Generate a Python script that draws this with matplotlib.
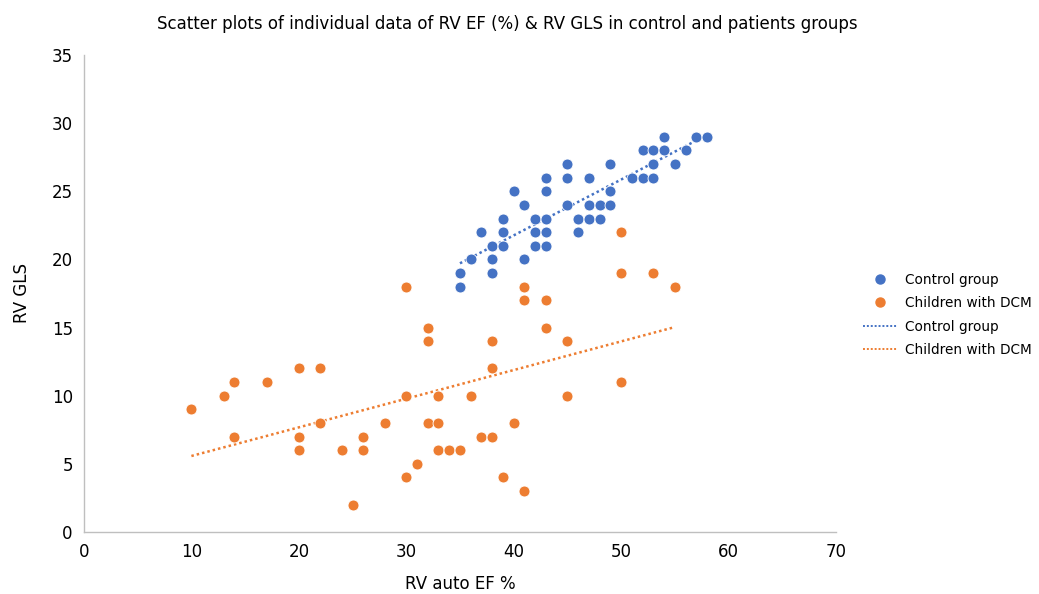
import numpy as np
import matplotlib
matplotlib.use('Agg')
import matplotlib.pyplot as plt
from matplotlib.lines import Line2D

# RV auto EF % vs RV GLS, control group
ctrl_ef = [54, 57, 58,
           52, 53, 54, 56,
           45, 49, 53, 55,
           43, 45, 47, 51, 52, 53,
           40, 43, 49,
           41, 45, 47, 48, 49,
           39, 42, 43, 46, 47, 48,
           37, 39, 42, 43, 46,
           38, 39, 42, 43,
           36, 38, 41,
           35, 38,
           35]
ctrl_gls = [29, 29, 29,
            28, 28, 28, 28,
            27, 27, 27, 27,
            26, 26, 26, 26, 26, 26,
            25, 25, 25,
            24, 24, 24, 24, 24,
            23, 23, 23, 23, 23, 23,
            22, 22, 22, 22, 22,
            21, 21, 21, 21,
            20, 20, 20,
            19, 19,
            18]

# children with DCM
dcm_ef = [10, 13, 14, 14, 17, 20, 20, 20, 22, 22, 24, 25, 26, 26, 28,
          30, 30, 30, 31, 32, 32, 32, 33, 33, 33, 34, 35, 36, 37, 38,
          38, 38, 39, 40, 41, 41, 41, 43, 43, 45, 45, 50, 50, 50, 53, 55]
dcm_gls = [9, 10, 11, 7, 11, 12, 7, 6, 12, 8, 6, 2, 7, 6, 8,
           18, 10, 4, 5, 15, 14, 8, 10, 8, 6, 6, 6, 10, 7, 14,
           12, 7, 4, 8, 18, 17, 3, 17, 15, 14, 10, 22, 19, 11, 19, 18]

blue = '#4472C4'
orange = '#ED7D31'

fig = plt.figure(figsize=(10.39, 5.94), dpi=100)
ax = fig.add_axes([0.0808, 0.1044, 0.7238, 0.803])

ax.scatter(ctrl_ef, ctrl_gls, s=62, color=blue, edgecolors='white', linewidths=0.6, zorder=3)
ax.scatter(dcm_ef, dcm_gls, s=62, color=orange, edgecolors='white', linewidths=0.6, zorder=3)

# linear trendlines over each group's range
for xs, ys, c in [(ctrl_ef, ctrl_gls, blue), (dcm_ef, dcm_gls, orange)]:
    k, b = np.polyfit(xs, ys, 1)
    xx = np.array([min(xs), max(xs)])
    ax.plot(xx, k * xx + b, color=c, linestyle=(0, (1, 1.2)), linewidth=1.8, zorder=2)

ax.set_xlim(0, 70)
ax.set_ylim(0, 35)
ax.set_xticks(range(0, 71, 10))
ax.set_yticks(range(0, 36, 5))
ax.tick_params(length=0, labelsize=12, pad=8)
for sp in ['top', 'right']:
    ax.spines[sp].set_visible(False)
for sp in ['left', 'bottom']:
    ax.spines[sp].set_color('#BFBFBF')
    ax.spines[sp].set_linewidth(1)

ax.set_xlabel('RV auto EF %', fontsize=12, labelpad=10)
ax.set_ylabel('RV GLS', fontsize=12, labelpad=15)
fig.suptitle('Scatter plots of individual data of RV EF (%) & RV GLS in control and patients groups',
             fontsize=12, x=0.488, y=0.975)

handles = [
    Line2D([], [], marker='o', linestyle='none', color=blue, markersize=6.5),
    Line2D([], [], marker='o', linestyle='none', color=orange, markersize=6.5),
    Line2D([], [], linestyle=(0, (1, 1)), color=blue, linewidth=1.4),
    Line2D([], [], linestyle=(0, (1, 1)), color=orange, linewidth=1.4),
]
labels = ['Control group', 'Children with DCM', 'Control group', 'Children with DCM']
fig.legend(handles, labels, loc='center left', bbox_to_anchor=(0.823, 0.47),
           frameon=False, fontsize=9.8, handlelength=2.5, labelspacing=0.7,
           handletextpad=0.6, borderaxespad=0.2)

fig.savefig('out.png', dpi=100)
